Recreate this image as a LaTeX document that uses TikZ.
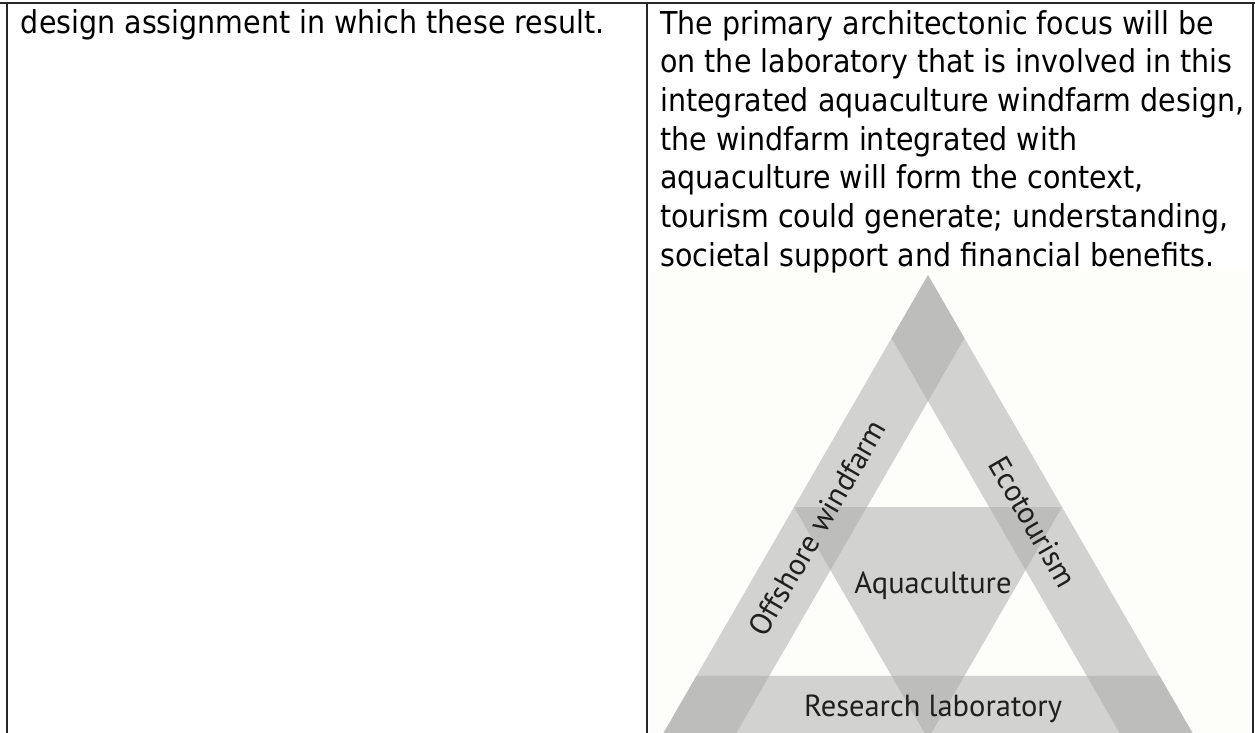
\documentclass[tikz,border=0pt]{standalone}
\usepackage{fontspec}
\usepackage{tikz}
\usetikzlibrary{positioning, calc}
\newfontfamily\cellfont{DejaVu Sans}[FakeStretch=0.905]
\newfontfamily\figfont{PT Sans}
\definecolor{paper}{RGB}{253,253,249}

\begin{document}
\begin{tikzpicture}[
  x=1pt, y=-1pt,
  rule/.style={draw=black!85, line width=1.8pt},
  celltext/.style={font=\cellfont\fontsize{31.5}{38.7}\selectfont,
    inner sep=0pt, align=left},
  band/.style={fill=black!33, fill opacity=0.52},
  tag/.style={font=\figfont\fontsize{30.5}{32}\selectfont, text=black!88,
    inner sep=0pt}
]
\useasboundingbox (0,0) rectangle (1255,733);

% Figure: three bands and the inner triangle
\fill[paper] (650,270) rectangle (1250,733);
\begin{scope}
  \clip (648,268) rectangle (1252,733);
  \coordinate (A) at (928,275);
  \coordinate (B) at (660,739);
  \coordinate (C) at (1196,739);
  \fill[band] (A) -- ($(A)!0.136!(C)$) -- ($(B)!0.136!(C)$) -- (B) -- cycle;
  \fill[band] (A) -- ($(A)!0.136!(B)$) -- ($(C)!0.136!(B)$) -- (C) -- cycle;
  \fill[band] (B) -- ($(B)!0.136!(A)$) -- ($(C)!0.136!(A)$) -- (C) -- cycle;
  \fill[band] ($(A)!0.5!(B)$) -- ($(A)!0.5!(C)$) -- ($(B)!0.5!(C)$) -- cycle;
\end{scope}

% Labels
\node[tag, rotate=60] (wind) at (817,528) {Offshore windfarm};
\node[tag, rotate=-60] (eco) at (1033,522) {Ecotourism};
\node[tag, anchor=base] (aqua) at (933,593) {Aquaculture};
\node[tag, anchor=base] (lab) at (933,716) {Research laboratory};

% Table rules
\draw[rule] (0,2.7) -- (1255,2.7);
\draw[rule] (7.3,2.7) -- (7.3,733);
\draw[rule] (646.8,2.7) -- (646.8,733);
\draw[rule] (1253.3,2.7) -- (1253.3,733);

% Cell texts (base = last line)
\node[celltext, anchor=base west] (left) at (20.7,34)
  {design assignment in which these result.};
\node[celltext, anchor=base west] (right) at (660,266.2)
  {The primary architectonic focus will be\\
   on the laboratory that is involved in this\\
   integrated aquaculture windfarm design,\\
   the windfarm integrated with\\
   aquaculture will form the context,\\
   tourism could generate; understanding,\\
   societal support and financial benefits.};

\end{tikzpicture}
\end{document}
